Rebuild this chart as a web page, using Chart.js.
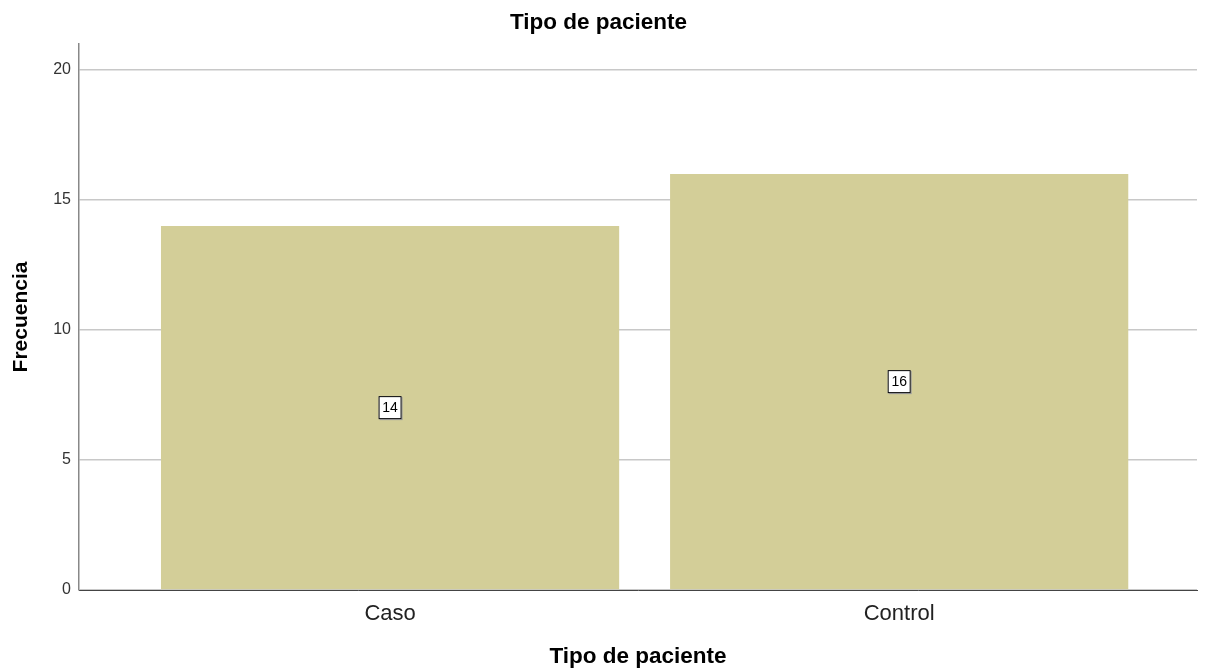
<!DOCTYPE html>
<html>
<head>
<meta charset="utf-8">
<title>Tipo de paciente</title>
<script src="https://cdn.jsdelivr.net/npm/chart.js@4"></script>
<style>
  html, body { margin: 0; padding: 0; background: #fff; }
  #wrap { width: 1216px; height: 670px; }
</style>
</head>
<body>
<div id="wrap"><canvas id="chart" width="1216" height="670"></canvas></div>
<script>
// Data
const categories = ["Caso", "Control"]
const counts = [14, 16]
const yTicks = [0, 5, 10, 15, 20]

const barColor = "#d3ce98"

// value box in the middle of each bar
const valueBoxes = {
  id: "valueBoxes",
  afterDatasetsDraw(chart) {
    const ctx = chart.ctx
    const meta = chart.getDatasetMeta(0)
    meta.data.forEach((bar, i) => {
      const cx = bar.x
      const cy = (bar.y + bar.base) / 2
      const w = 23, h = 23
      ctx.save()
      ctx.fillStyle = "#9a9a9a"
      ctx.fillRect(cx - w / 2 + 1, cy - h / 2 + 1, w, h)
      ctx.fillStyle = "#fff"
      ctx.fillRect(cx - w / 2, cy - h / 2, w, h)
      ctx.strokeStyle = "#000"
      ctx.lineWidth = 1
      ctx.strokeRect(cx - w / 2 + 0.5, cy - h / 2 + 0.5, w - 1, h - 1)
      ctx.fillStyle = "#000"
      ctx.font = "14px Arial"
      ctx.textAlign = "center"
      ctx.textBaseline = "middle"
      ctx.fillText(String(counts[i]), cx, cy + 1)
      ctx.restore()
    })
  }
}

new Chart(document.getElementById("chart"), {
  type: "bar",
  data: {
    datasets: [{
      data: counts.map((v, i) => ({ x: i, y: v })),
      backgroundColor: barColor,
      borderWidth: 0,
      barPercentage: 0.9,
      categoryPercentage: 1
    }]
  },
  options: {
    responsive: false,
    animation: false,
    layout: { padding: { left: 0, right: 19, top: 0, bottom: 0 } },
    plugins: {
      legend: { display: false },
      tooltip: { enabled: false },
      title: {
        display: true,
        text: "Tipo de paciente",
        color: "#000",
        font: { family: "Arial", size: 22.5, weight: "bold" },
        padding: { top: 9, bottom: 8 }
      }
    },
    scales: {
      x: {
        type: "linear",
        offset: false,
        min: -0.611,
        max: 1.585,
        afterBuildTicks: s => { s.ticks = categories.map((c, i) => ({ value: i })) },
        afterFit: s => { s.height = 80 },
        ticks: {
          callback: v => categories[v] ?? "",
          color: "#222",
          font: { family: "Arial", size: 22 },
          padding: 11
        },
        grid: { display: false, drawTicks: false },
        border: { display: true, color: "#444", width: 1 },
        title: {
          display: true,
          text: "Tipo de paciente",
          color: "#000",
          font: { family: "Arial", size: 22.5, weight: "bold" },
          padding: { top: 0, bottom: 0 }
        }
      },
      y: {
        min: 0,
        max: 21,
        afterBuildTicks: s => { s.ticks = yTicks.map(v => ({ value: v })) },
        afterFit: s => { s.width = 79 },
        ticks: {
          color: "#333",
          font: { family: "Arial", size: 16 },
          padding: 8
        },
        grid: { color: "#c8c8c8", lineWidth: 1.5, drawTicks: false },
        border: { display: true, color: "#888", width: 1.5 },
        title: {
          display: true,
          text: "Frecuencia",
          color: "#000",
          font: { family: "Arial", size: 21, weight: "bold" },
          padding: { top: 9, bottom: 0 }
        }
      }
    }
  },
  plugins: [valueBoxes]
})
</script>
</body>
</html>
